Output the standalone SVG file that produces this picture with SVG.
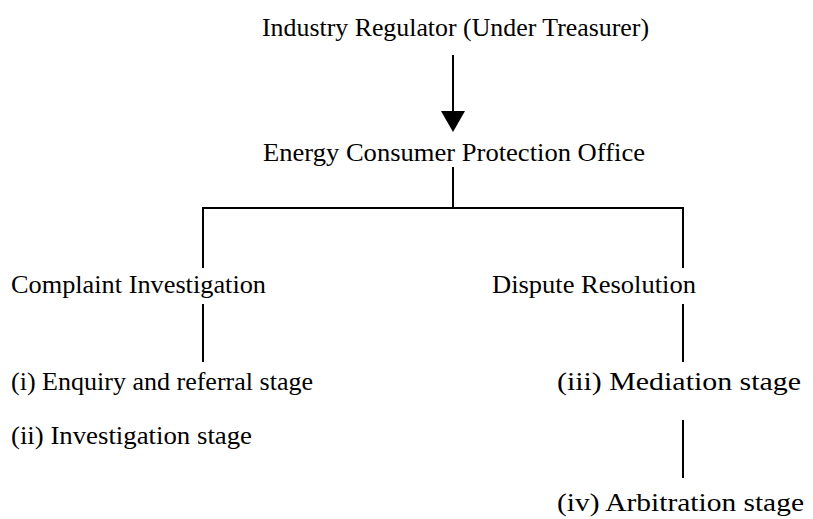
<svg xmlns="http://www.w3.org/2000/svg" width="813" height="519" viewBox="0 0 813 519">
<style>
text{font-family:"Liberation Serif","Times New Roman",serif;font-size:25.5px;fill:#000}
.ln{stroke:#000;stroke-width:2;fill:none}
.ah{fill:#000}
</style>
<rect width="813" height="519" fill="#fff"/>
<g id="connectors">
<line class="ln" x1="453" y1="55" x2="453" y2="112"/>
<path class="ah" d="M441,111 L465,111 L453,132 Z"/>
<line class="ln" x1="453" y1="167" x2="453" y2="208"/>
<polyline class="ln" points="203,268 203,208 683,208 683,268"/>
<line class="ln" x1="203" y1="304" x2="203" y2="362"/>
<line class="ln" x1="683" y1="304" x2="683" y2="362"/>
<line class="ln" x1="683" y1="420" x2="683" y2="478"/>
</g>
<g id="regulator"><text x="262" y="36" textLength="387" lengthAdjust="spacingAndGlyphs">Industry Regulator (Under Treasurer)</text></g>
<g id="ecpo"><text x="263" y="161" textLength="382" lengthAdjust="spacingAndGlyphs">Energy Consumer Protection Office</text></g>
<g id="complaint"><text x="11" y="293" textLength="255" lengthAdjust="spacingAndGlyphs">Complaint Investigation</text></g>
<g id="dispute"><text x="492" y="293" textLength="204" lengthAdjust="spacingAndGlyphs">Dispute Resolution</text></g>
<g id="enquiry"><text x="11" y="390" textLength="302" lengthAdjust="spacingAndGlyphs">(i) Enquiry and referral stage</text></g>
<g id="investigation"><text x="11" y="444" textLength="241" lengthAdjust="spacingAndGlyphs">(ii) Investigation stage</text></g>
<g id="mediation"><text x="557" y="390" textLength="244" lengthAdjust="spacingAndGlyphs">(iii) Mediation stage</text></g>
<g id="arbitration"><text x="557" y="511" textLength="247" lengthAdjust="spacingAndGlyphs">(iv) Arbitration stage</text></g>
</svg>
